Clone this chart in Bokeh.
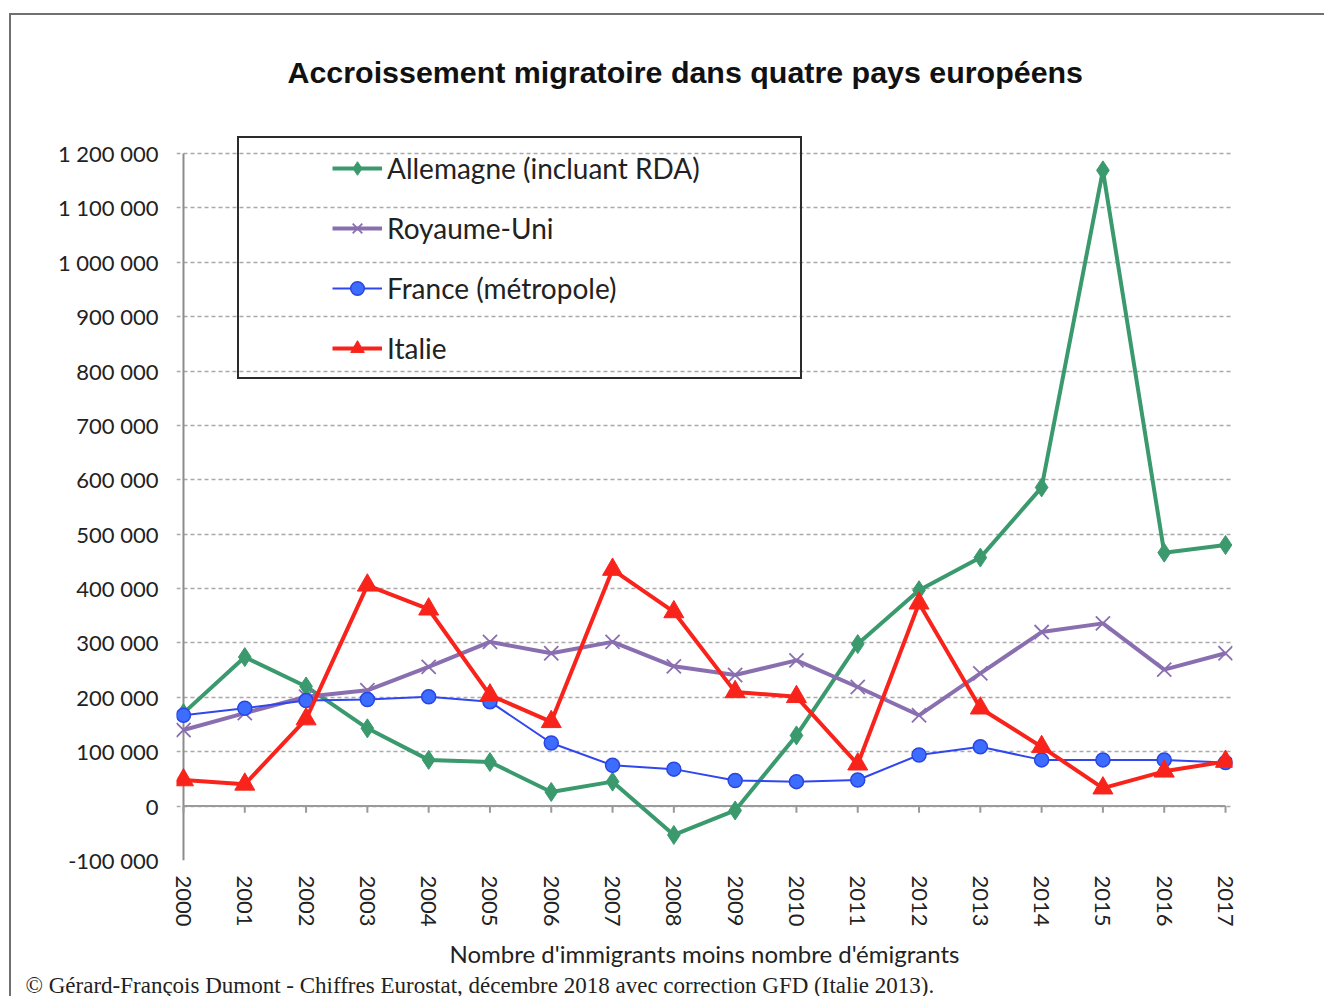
from bokeh.plotting import figure
from bokeh.models import FixedTicker, Legend, LegendItem, Title, Range1d, Label
from bokeh.embed import file_html
from bokeh.resources import INLINE

years = list(range(2000, 2018))
allemagne = [171000, 274000, 220000, 143000, 85000, 81000, 26000, 45000, -53000, -8000,
             130000, 298000, 397000, 457000, 586000, 1169000, 466000, 480000]
royaume_uni = [140000, 171000, 201000, 213000, 256000, 302000, 281000, 302000, 257000, 241000,
               268000, 219000, 167000, 244000, 320000, 336000, 251000, 281000]
france = [167000, 180000, 194000, 196000, 201000, 192000, 116000, 75000, 68000, 47000,
          45000, 48000, 94000, 109000, 85000, 85000, 85000, 80000]
italie = [48000, 40000, 160000, 406000, 362000, 204000, 155000, 435000, 357000, 210000,
          201000, 77000, 373000, 180000, 109000, 33000, 64000, 82000]
series_names = ["Allemagne (incluant RDA)", "Royaume-Uni", "France (métropole)", "Italie"]
y_ticks = list(range(-100000, 1200001, 100000))
y_tick_labels = {v: f"{v:,}".replace(",", " ") for v in y_ticks}
title_text = "Accroissement migratoire dans quatre pays européens"
x_label = "Nombre d'immigrants moins nombre d'émigrants"
footer_text = "© Gérard-François Dumont - Chiffres  Eurostat, décembre 2018 avec correction GFD (Italie 2013)."

FONT = "Lato"

# the plot frame reaches the top of the canvas; the grid stops at the last tick
p = figure(width=1315, height=983, output_backend="svg", toolbar_location=None,
           x_range=Range1d(1999.886, 2017.114), y_range=Range1d(-100000, 1453700),
           min_border_left=165, min_border_top=0, min_border_right=94, min_border_bottom=138,
           background_fill_color="white", border_fill_color="white")
p.outline_line_color = None
p.styles = {"margin-top": "13px", "margin-left": "9px",
            "border-top": "2px solid #707070", "border-left": "2px solid #707070"}

# title as a label placed in pixels from the frame's bottom-left corner
p.add_layout(Label(x=111, y=789, x_units="screen", y_units="screen", text=title_text,
                   text_align="left", text_baseline="middle", text_font="Liberation Sans",
                   text_font_size="30.4px", text_font_style="bold", text_color="#111111"))

# axes
p.xaxis.ticker = FixedTicker(ticks=years)
p.xaxis.major_label_orientation = "vertical"
p.xaxis.axis_line_color = None
p.xaxis.major_tick_out = 0
p.xaxis.major_tick_in = 0
p.xaxis.minor_tick_out = 0
p.xaxis.minor_tick_in = 0
p.xaxis.major_label_standoff = 15
p.xaxis.major_label_text_font = FONT
p.xaxis.major_label_text_font_size = "22px"
p.xaxis.major_label_text_color = "#222222"
p.xaxis.axis_label = x_label
p.xaxis.axis_label_text_font = FONT
p.xaxis.axis_label_text_font_size = "24px"
p.xaxis.axis_label_text_font_style = "normal"
p.xaxis.axis_label_text_color = "#222222"
p.xaxis.axis_label_standoff = 9

p.yaxis.ticker = FixedTicker(ticks=y_ticks)
p.yaxis.major_label_overrides = y_tick_labels
p.yaxis.axis_line_color = None
p.yaxis.major_tick_out = 0
p.yaxis.major_tick_in = 0
p.yaxis.minor_tick_out = 0
p.yaxis.minor_tick_in = 0
p.yaxis.major_label_standoff = 18
p.yaxis.major_label_text_font = FONT
p.yaxis.major_label_text_font_size = "22px"
p.yaxis.major_label_text_color = "#222222"

p.xgrid.visible = False
p.ygrid.ticker = FixedTicker(ticks=y_ticks)
p.ygrid.grid_line_color = "#a9a9a9"
p.ygrid.grid_line_dash = "4 3"
p.ygrid.grid_line_width = 1.5

# axis lines drawn at x = first year and y = 0
p.segment(x0=[years[0]], x1=[years[0]], y0=[y_ticks[0]], y1=[y_ticks[-1]],
          line_color="#8c8c8c", line_width=2)
p.segment(x0=[years[0]], x1=[years[-1]], y0=[0], y1=[0], line_color="#9a9a9a", line_width=2)
p.segment(x0=years, x1=years, y0=[0] * len(years), y1=[-12000] * len(years),
          line_color="#9a9a9a", line_width=2)

# series
colors = ["#3b9a6d", "#8a6fb0", "#3046ee", "#f8241c"]
r1l = p.line(years, allemagne, line_color=colors[0], line_width=4)
r1m = p.scatter(years, allemagne, marker="diamond", size=19, fill_color=colors[0], line_color=colors[0])
r2l = p.line(years, royaume_uni, line_color=colors[1], line_width=4)
r2m = p.scatter(years, royaume_uni, marker="x", size=20, line_color=colors[1], line_width=1.8)
r3l = p.line(years, france, line_color=colors[2], line_width=2)
r3m = p.scatter(years, france, marker="circle", size=14, fill_color="#3d6dff", line_color="#2a45e0", line_width=1.5)
r4l = p.line(years, italie, line_color=colors[3], line_width=4)
r4m = p.scatter(years, italie, marker="triangle", size=20, fill_color=colors[3], line_color=colors[3])

# legend box (frame only)
dummy = p.scatter(x=[], y=[], fill_alpha=0, line_alpha=0)
box = Legend(items=[LegendItem(label=" ", renderers=[dummy])], location=(61, 481),
             padding=15, glyph_width=506, glyph_height=209, label_width=20, label_standoff=5,
             label_text_alpha=0, border_line_color="#2b2b2b", border_line_width=2.5,
             border_line_alpha=1.0, background_fill_alpha=0)
p.add_layout(box)

legend = Legend(items=[
    LegendItem(label=series_names[0], renderers=[r1l, r1m]),
    LegendItem(label=series_names[1], renderers=[r2l, r2m]),
    LegendItem(label=series_names[2], renderers=[r3l, r3m]),
    LegendItem(label=series_names[3], renderers=[r4l, r4m]),
], location=(156, 495), padding=14, spacing=26, glyph_height=34, glyph_width=50,
    label_height=34, label_standoff=5, label_text_font=FONT, label_text_font_size="28px",
    label_text_color="#222222", border_line_color=None, background_fill_alpha=0)
p.add_layout(legend)

# footer
footer = Title(text=footer_text, align="left", text_font="Liberation Serif",
               text_font_size="23px", text_font_style="normal", text_color="#222222",
               offset=-151, standoff=0)
p.add_layout(footer, "below")

open("out.html", "w").write(file_html(p, INLINE))
